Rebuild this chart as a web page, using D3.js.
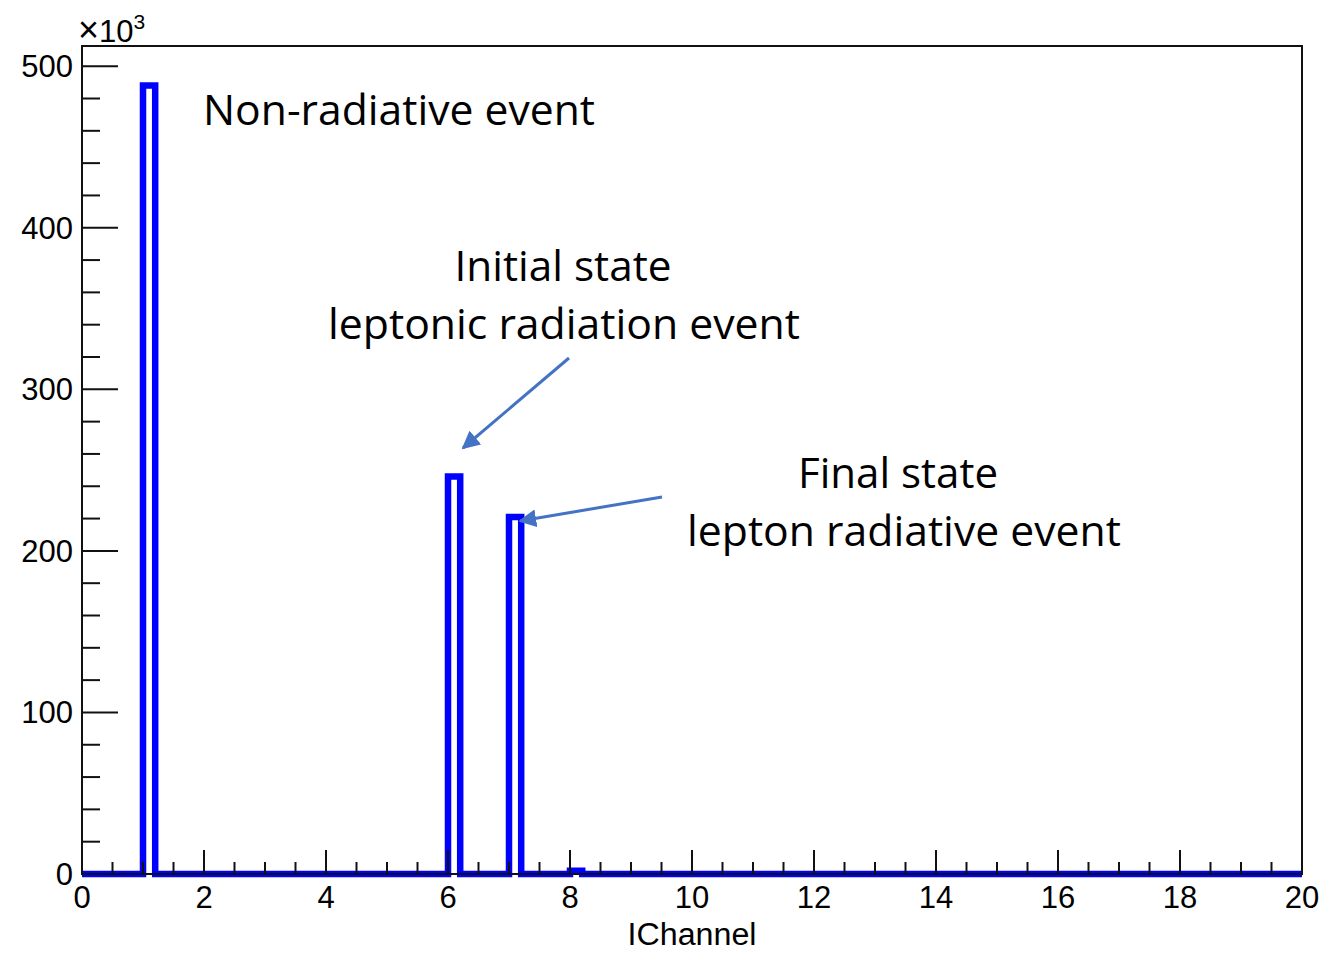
<!DOCTYPE html>
<html>
<head>
<meta charset="utf-8">
<script src="https://cdn.jsdelivr.net/npm/d3@7"></script>
<style>
  body { margin: 0; background: #fff; }
  svg { display: block; }
</style>
</head>
<body>
<div id="chart"></div>
<script>
// Histogram data (counts in units of 10^3), bin width 0.2 on IChannel
const binWidth = 0.2;
const binLow = [1, 6, 7, 8];
const binCounts = [488, 246, 221, 2];

const xTicks = [0, 2, 4, 6, 8, 10, 12, 14, 16, 18, 20];
const yTicks = [0, 100, 200, 300, 400, 500];

const notes = [
  { text: "Non-radiative event", x: 399, y: 125, len: 392 },
  { text: "Initial state", x: 563, y: 281, len: 217 },
  { text: "leptonic radiation event", x: 564, y: 339, len: 472 },
  { text: "Final state", x: 898, y: 488, len: 200 },
  { text: "lepton radiative event", x: 904, y: 546, len: 434 }
];

// Set dimensions
const width = 1323,
      height = 953;
const margin = { top: 46, right: 21, bottom: 80, left: 82 };

const svg = d3.select("#chart")
  .append("svg")
  .attr("width", width)
  .attr("height", height);

const x = d3.scaleLinear()
  .domain([0, 20])
  .range([margin.left, width - margin.right]);

const y = d3.scaleLinear()
  .domain([0, 512.5])
  .range([height - margin.bottom + 1, margin.top]);

const axisFont = "'Liberation Sans', Arial, Helvetica, sans-serif";

// Histogram outline (step line)
const pts = [[0, 0]];
binLow.forEach((lo, i) => {
  pts.push([lo, 0], [lo, binCounts[i]], [lo + binWidth, binCounts[i]], [lo + binWidth, 0]);
});
pts.push([20, 0]);

const line = d3.line()
  .x(d => x(d[0]))
  .y(d => y(d[1]));

svg.append("path")
  .attr("d", line(pts))
  .attr("fill", "none")
  .attr("stroke", "#0000ff")
  .attr("stroke-width", 6.5)
  .attr("stroke-linejoin", "miter");

// Frame
svg.append("rect")
  .attr("x", x(0))
  .attr("y", y(512.5))
  .attr("width", x(20) - x(0))
  .attr("height", y(0) - y(512.5))
  .attr("fill", "none")
  .attr("stroke", "#111")
  .attr("stroke-width", 2);

// X axis
const xMinor = d3.range(0, 20.01, 0.5);
const gx = svg.append("g");
gx.selectAll("line")
  .data(xMinor)
  .enter()
  .append("line")
  .attr("x1", d => x(d))
  .attr("x2", d => x(d))
  .attr("y1", y(0))
  .attr("y2", d => y(0) - (d % 2 === 0 ? 24 : 12))
  .attr("stroke", "#111")
  .attr("stroke-width", 2);

gx.selectAll("text")
  .data(xTicks)
  .enter()
  .append("text")
  .attr("x", d => x(d))
  .attr("y", y(0) + 34)
  .attr("text-anchor", "middle")
  .style("font-family", axisFont)
  .style("font-size", "31px")
  .text(d => d);

svg.append("text")
  .attr("x", (x(0) + x(20)) / 2)
  .attr("y", y(0) + 71)
  .attr("text-anchor", "middle")
  .style("font-family", axisFont)
  .style("font-size", "31px")
  .attr("textLength", 129)
  .attr("lengthAdjust", "spacingAndGlyphs")
  .text("IChannel");

// Y axis
const yMinor = d3.range(0, 501, 20);
const gy = svg.append("g");
gy.selectAll("line")
  .data(yMinor)
  .enter()
  .append("line")
  .attr("x1", x(0))
  .attr("x2", d => x(0) + (d % 100 === 0 ? 36 : 18))
  .attr("y1", d => y(d))
  .attr("y2", d => y(d))
  .attr("stroke", "#111")
  .attr("stroke-width", 2);

gy.selectAll("text")
  .data(yTicks)
  .enter()
  .append("text")
  .attr("x", x(0) - 9)
  .attr("y", d => y(d) + 11)
  .attr("text-anchor", "end")
  .style("font-family", axisFont)
  .style("font-size", "31px")
  .text(d => d);

// Exponent label
const expo = svg.append("text")
  .attr("x", 78)
  .attr("y", 42)
  .style("font-family", axisFont)
  .style("font-size", "31px");
expo.append("tspan")
  .style("font-size", "36px")
  .text("\u00d7");
expo.append("tspan").text("10");
expo.append("tspan")
  .attr("dy", -13)
  .style("font-size", "21px")
  .text("3");

// Annotations
svg.selectAll(".note")
  .data(notes)
  .enter()
  .append("text")
  .attr("class", "note")
  .attr("x", d => d.x)
  .attr("y", d => d.y)
  .attr("text-anchor", "middle")
  .attr("textLength", d => d.len)
  .attr("lengthAdjust", "spacingAndGlyphs")
  .style("font-family", "'Open Sans', 'Noto Sans', sans-serif")
  .style("font-size", "42px")
  .style("fill", "#000")
  .text(d => d.text);

// Arrows
const arrowColor = "#4472c4";
svg.append("defs")
  .append("marker")
  .attr("id", "head")
  .attr("viewBox", "0 0 10 10")
  .attr("refX", 9)
  .attr("refY", 5)
  .attr("markerWidth", 6)
  .attr("markerHeight", 6)
  .attr("markerUnits", "strokeWidth")
  .attr("orient", "auto")
  .append("path")
  .attr("d", "M0,0 L10,5 L0,10 Z")
  .attr("fill", arrowColor);

const arrows = [
  { x1: 569, y1: 358, x2: 463, y2: 448 },
  { x1: 662, y1: 497, x2: 520, y2: 521 }
];

svg.selectAll(".arrow")
  .data(arrows)
  .enter()
  .append("line")
  .attr("class", "arrow")
  .attr("x1", d => d.x1)
  .attr("y1", d => d.y1)
  .attr("x2", d => d.x2)
  .attr("y2", d => d.y2)
  .attr("stroke", arrowColor)
  .attr("stroke-width", 3)
  .attr("marker-end", "url(#head)");
</script>
</body>
</html>
